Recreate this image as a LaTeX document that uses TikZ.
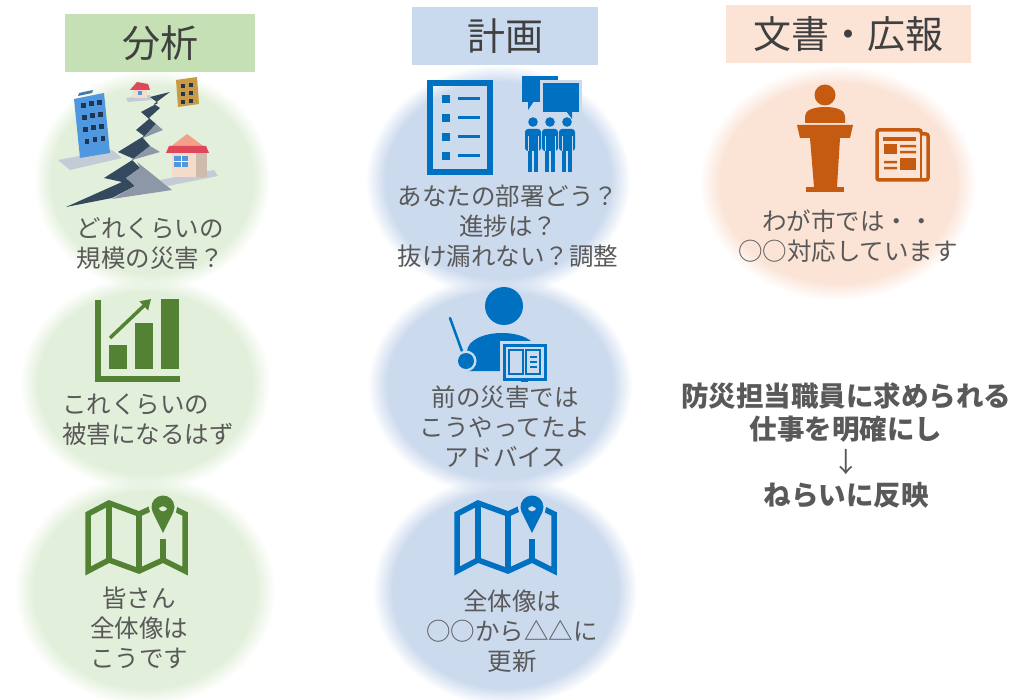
\documentclass[tikz,border=0pt]{standalone}
\usepackage{fontspec}
\setmainfont{Noto Sans CJK JP}
\usetikzlibrary{arrows.meta,fadings}
\definecolor{BosaiGreen}{HTML}{548235}
\definecolor{BosaiGreenBg}{HTML}{E2EFDA}
\definecolor{BosaiGreenHead}{HTML}{C5E0B4}
\definecolor{BosaiBlue}{HTML}{0070C0}
\definecolor{BosaiBlueBg}{HTML}{CCDAEE}
\definecolor{BosaiBlueHead}{HTML}{CADAEE}
\definecolor{BosaiOrange}{HTML}{C55A11}
\definecolor{BosaiOrangeBg}{HTML}{FBE3D6}
\definecolor{BosaiOrangeHead}{HTML}{FBE4D6}
\definecolor{BosaiText}{HTML}{595959}
\definecolor{BosaiHead}{HTML}{404040}
\definecolor{QuakeBldg}{HTML}{4F97DE}
\definecolor{QuakeWin}{HTML}{1F3550}
\definecolor{QuakeDark}{HTML}{34495E}
\definecolor{QuakeGrey}{HTML}{8C97A8}
\definecolor{QuakeGround}{HTML}{C3CBD7}
\definecolor{QuakeRoof}{HTML}{E0475A}
\definecolor{QuakeGable}{HTML}{F2A08A}
\definecolor{QuakeWall}{HTML}{F4DCCB}
\definecolor{QuakeOchre}{HTML}{C99A45}

\tikzset{
  headbox/.style={fill=#1, text=BosaiHead, font=\fontsize{38}{44}\selectfont, minimum height=58, inner sep=0},
  circtext/.style={text=BosaiText, align=center, font=\fontsize{24.5}{30}\selectfont, inner sep=0},
  softdisc/.style={fill=#1, path fading=circle with fuzzy edge 15 percent},
}

% folded map with a pin: #1,#2 top-left, #3 icon colour, #4 disc colour
\newcommand{\foldmap}[4]{%
\begin{scope}[shift={(#1,#2)}]
  \draw[#3, line width=5.5, line join=miter] (0,19) -- (21,8) -- (51,19) -- (75,8) -- (97,19) -- (97,76) -- (75,65) -- (51,76) -- (21,65) -- (0,76) -- cycle;
  \draw[#3, line width=5.5] (21,8) -- (21,65) (51,19) -- (51,76) (75,44) -- (75,65);
  \draw[#4, line width=5] (75,38) -- (64.69,17.09) arc[start angle=153.75, end angle=386.25, radius=11.5] -- cycle;
  \fill[#3, even odd rule] (75,38) -- (64.69,17.09) arc[start angle=153.75, end angle=386.25, radius=11.5] -- cycle (75,12) circle (4.5);
\end{scope}}

\begin{document}
\begin{tikzpicture}[x=1pt, y=-1pt]
\useasboundingbox (0,0) rectangle (1024,700);

% Soft discs behind each item
\foreach \cx/\cy/\rx/\ry/\col in {
  152/180/118/110/BosaiGreenBg,
  145/383/125/107/BosaiGreenBg,
  145/590/130/115/BosaiGreenBg,
  498/180/132/115/BosaiBlueBg,
  500/385/132/110/BosaiBlueBg,
  505/590/132/115/BosaiBlueBg,
  838/183/138/117/BosaiOrangeBg}
{
  \fill[softdisc=\col] (\cx,\cy) ellipse [x radius=\rx, y radius=\ry];
}

% Column headers
\node[headbox=BosaiGreenHead, minimum width=190] (hBunseki) at (160,43) {分析};
\node[headbox=BosaiBlueHead, minimum width=186] (hKeikaku) at (505,36) {計画};
\node[headbox=BosaiOrangeHead, minimum width=245] (hKouhou) at (848,34) {文書・広報};

% Earthquake sketch
\fill[QuakeGround] (58,160) -- (112,150) -- (122,158) -- (70,170) -- cycle;
\fill[QuakeGround] (160,180) -- (214,170) -- (218,176) -- (168,186) -- cycle;
\fill[QuakeGround] (126,98) -- (150,95) -- (152,100) -- (128,102) -- cycle;
\fill[QuakeBldg] (74,99) -- (104,93) -- (110,153) -- (80,158) -- cycle;
\fill[QuakeBldg!80!black] (78,96) -- (92,93) -- (93,90) -- (79,93) -- cycle;
\foreach \i in {0,1,2}
  \foreach \j in {0,1,2,3}
    \fill[QuakeWin] (81+8*\i+1.2*\j,103-1.6*\i+12*\j) rectangle ++(4.5,5);
\fill[QuakeDark] (170,92) -- (150,97) -- (158,103) -- (141,112) -- (149,119) -- (136,130) -- (144,136) -- (118,152) -- (134,159) -- (104,178) -- (122,182) -- (66,207) -- (112,198) -- (135,186) -- (126,178) -- (140,168) -- (132,160) -- (150,146) -- (143,138) -- (156,124) -- (149,118) -- (160,108) -- (154,104) -- cycle;
\fill[QuakeGrey] (137,162) -- (172,190) -- (112,199) -- (135,186) -- (126,178) -- (140,168) -- cycle;
\fill[QuakeGrey] (150,146) -- (160,152) -- (132,160) -- cycle;
\fill[QuakeGrey] (156,124) -- (163,130) -- (143,138) -- cycle;
\fill[QuakeOchre] (176,80) -- (197,77) -- (199,104) -- (178,107) -- cycle;
\foreach \i in {0,1}
  \foreach \j in {0,1,2}
    \fill[QuakeWin] (181+8*\i,84-\i+8*\j) rectangle ++(4,4);
\fill[QuakeWall] (133,89) rectangle (147,98);
\fill[QuakeRoof] (130,90) -- (137,82) -- (148,84) -- (150,90) -- cycle;
\fill[QuakeBldg] (138,91) rectangle (142,95);
\fill[QuakeWall] (172,151) rectangle (207,177);
\fill[QuakeWall!85!black] (196,151) rectangle (207,177);
\fill[QuakeGable] (169,148) -- (187,134) -- (206,148) -- cycle;
\fill[QuakeRoof] (166,153) -- (169,146) -- (206,146) -- (209,153) -- cycle;
\fill[QuakeBldg] (174,156) rectangle (188,167);
\draw[white, line width=1] (181,156) -- (181,167) (174,161.5) -- (188,161.5);

% Bar chart with rising arrow
\fill[BosaiGreen] (95,300) rectangle (101,382);
\fill[BosaiGreen] (95,376) rectangle (180,382);
\fill[BosaiGreen] (109,345) rectangle (127,369);
\fill[BosaiGreen] (135,323) rectangle (153,369);
\fill[BosaiGreen] (161,299) rectangle (179,369);
\draw[BosaiGreen, line width=3.5, -{Triangle[length=10pt, width=12pt]}] (110,338) -- (151,299);

% Maps
\foldmap{88}{495}{BosaiGreen}{BosaiGreenBg}
\foldmap{457}{495}{BosaiBlue}{BosaiBlueBg}

% Checklist
\draw[BosaiBlue, line width=6] (430,83) rectangle (490,172);
\foreach \y in {99,118,137,156} {
  \fill[BosaiBlue] (442,\y-4) rectangle (450,\y+4);
  \fill[BosaiBlue] (458,\y-1.5) rectangle (480,\y+1.5);
}

% Speech bubbles and three people
\fill[BosaiBlue] (522,76) rectangle (558,102);
\fill[BosaiBlue] (528,101) -- (534,101) -- (528,110) -- cycle;
\fill[BosaiBlueBg] (540,80) rectangle (582,115);
\fill[BosaiBlue] (543,83) rectangle (579,112);
\fill[BosaiBlue] (566,111) -- (572,111) -- (572,119) -- cycle;
\foreach \px in {533,567,550} {
  \fill[BosaiBlue] (\px,122) circle (4.8);
  \fill[BosaiBlue, rounded corners=3] (\px-8,151) -- (\px-8,129) -- (\px+8,129) -- (\px+8,151) -- cycle;
  \fill[BosaiBlue] (\px-5,148) rectangle (\px-0.8,172);
  \fill[BosaiBlue] (\px+0.8,148) rectangle (\px+5,172);
  \draw[BosaiBlueBg, line width=1] (\px-5,136) -- (\px-5,151) (\px+5,136) -- (\px+5,151);
}

% Teacher with pointer and book
\fill[BosaiBlue] (504,306) circle (19);
\fill[BosaiBlue] (467,371) -- (467,352) .. controls (467,340) and (484,333) .. (502,333) .. controls (520,333) and (537,340) .. (537,352) -- (537,371) -- cycle;
\draw[BosaiBlue, line width=2.5, line cap=round] (450,318) -- (463,354);
\fill[BosaiBlueBg] (466,361) circle (10.5);
\fill[BosaiBlue] (466,361) circle (8);
\fill[BosaiBlueBg] (500,341) rectangle (549,384);
\draw[BosaiBlue, line width=3] (504,345) rectangle (545,379);
\draw[BosaiBlue, line width=1.8] (509,350) rectangle (523,374) (526,350) rectangle (540,374);
\foreach \y in {357,362,367}
  \draw[BosaiBlue, line width=1.8] (530,\y) -- (537,\y);
\fill[BosaiBlue] (521,379) rectangle (528,382);

% Speaker at a podium
\fill[BosaiOrange] (825,95) circle (10.5);
\fill[BosaiOrange] (805,123) -- (805,116) .. controls (805,110) and (814,107) .. (825,107) .. controls (836,107) and (845,110) .. (845,116) -- (845,123) -- cycle;
\fill[BosaiOrange] (797,125) -- (853,125) -- (850,138) -- (800,138) -- cycle;
\fill[BosaiOrange] (810,138) -- (840,138) -- (837,187) -- (814,187) -- cycle;
\fill[BosaiOrange] (806,187) rectangle (844,192);

% Newspaper
\draw[BosaiOrange, line width=3.5, rounded corners=2] (877,130) -- (921,130) -- (921,134) -- (928,134) -- (928,180) -- (877,180) -- cycle;
\draw[BosaiOrange, line width=2.5] (921,134) -- (921,178);
\fill[BosaiOrange] (883,137) rectangle (916,141);
\fill[BosaiOrange] (884,144) rectangle (897,154);
\fill[BosaiOrange] (900,145) rectangle (916,147.5) (900,151) rectangle (916,153.5);
\fill[BosaiOrange] (884,161) rectangle (897,163.5) (884,167) rectangle (897,169.5);
\fill[BosaiOrange] (900,158) rectangle (916,170);

% Captions
\node[circtext] (tScale) at (150,244) {どれくらいの\\規模の災害？};
\node[circtext, align=left] (tDamage) at (148,420) {これくらいの\\被害になるはず};
\node[circtext] (tWhole) at (139,628) {皆さん\\全体像は\\こうです};
\node[circtext] (tDept) at (508,226) {あなたの部署どう？\\進捗は？\\抜け漏れない？調整};
\node[circtext] (tAdvice) at (505,427) {前の災害では\\こうやってたよ\\アドバイス};
\node[circtext] (tUpdate) at (512,631) {全体像は\\○○から△△に\\更新};
\node[circtext] (tCity) at (848,236) {わが市では・・\\○○対応しています};
\node[text=BosaiText, align=center, inner sep=0, font=\bfseries\fontsize{27.5}{33}\selectfont] (tGoal) at (846,445) {防災担当職員に求められる\\仕事を明確にし\\{\mdseries ↓}\\ねらいに反映};

\end{tikzpicture}
\end{document}
